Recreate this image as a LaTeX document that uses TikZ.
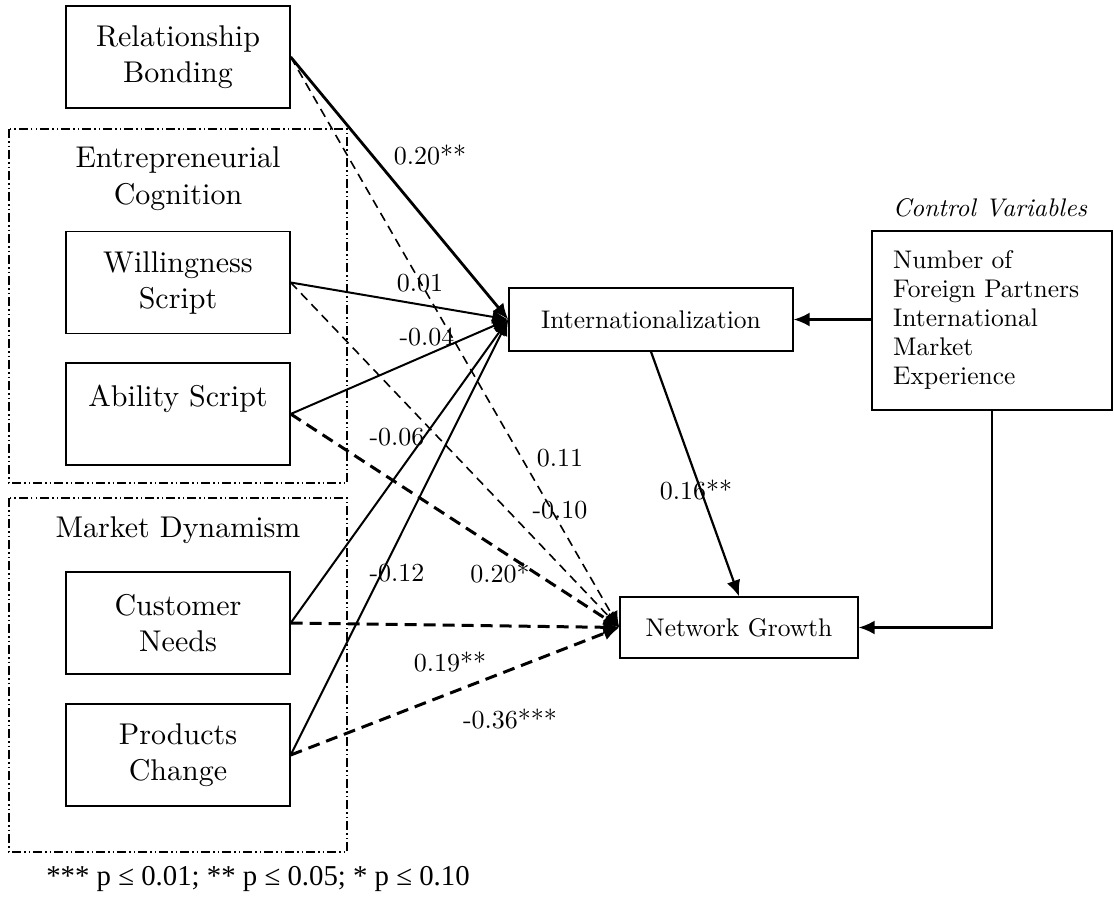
\documentclass[tikz,border=0pt]{standalone}
\usepackage{fontspec}
\setmainfont{lmroman10-regular.otf}[ItalicFont=lmroman10-italic.otf, BoldFont=lmroman10-bold.otf, BoldItalicFont=lmroman10-bolditalic.otf]
\newfontfamily\legendfont{Liberation Serif}
\usetikzlibrary{arrows.meta}
\begin{document}
\begin{tikzpicture}[x=1pt,y=-1pt,
  box/.style={draw, line width=1.4pt, minimum width=224pt, minimum height=102pt, align=center, inner sep=0pt, font=\fontsize{30}{36}\selectfont},
  smallbox/.style={draw, line width=1.4pt, align=center, inner sep=0pt, font=\fontsize{25.5}{31}\selectfont},
  group/.style={draw, line width=1.3pt, dash pattern=on 9pt off 3pt on 1.5pt off 3pt on 1.5pt off 3pt},
  grouptitle/.style={align=center, font=\fontsize{30}{37}\selectfont},
  lbl/.style={font=\fontsize{26}{30}\selectfont, inner sep=0pt},
  tip/.style={-{Latex[length=16pt,width=14pt]}},
  solidthin/.style={tip, line width=2pt},
  solidthick/.style={tip, line width=2.8pt},
  dashthin/.style={tip, line width=1.6pt, dash pattern=on 9pt off 6pt},
  dashthick/.style={tip, line width=3pt, dash pattern=on 12pt off 7pt},
  conn/.style={tip, line width=2.2pt}]
\useasboundingbox (0,0) rectangle (1114,897);
% groups
\draw[group] (9,129) rectangle (347,483);
\draw[group] (9,498) rectangle (347,852);
\node[grouptitle] (ect) at (178,179) {Entrepreneurial\\Cognition};
\node[grouptitle] (mdt) at (178,530) {Market Dynamism};
% boxes
\node[box] (RB) at (178,57) {Relationship\\Bonding};
\node[box] (WS) at (178,282.5) {Willingness\\Script};
\node[box] (AS) at (178,414) {Ability Script\\~};
\node[box] (CN) at (178,623) {Customer\\Needs};
\node[box] (PC) at (178,755) {Products\\Change};
\node[smallbox, minimum width=284pt, minimum height=63pt] (INT) at (651,319.5) {Internationalization};
\node[smallbox, minimum width=238pt, minimum height=61pt] (NG) at (739,627.5) {Network Growth};
\node[draw, line width=1.4pt, minimum width=240pt, minimum height=179pt, inner sep=0pt] (CV) at (992,320.5) {};
\node[anchor=north west, align=left, inner sep=0pt, font=\fontsize{25.5}{29}\selectfont] (CVt) at (893,250) {Number of\\Foreign Partners\\International\\Market\\Experience};
\node[font=\fontsize{25.5}{30}\selectfont\itshape] (CVh) at (990,208) {Control Variables};
% paths to Internationalization
\draw[solidthick] (RB.east) -- (INT.west);
\draw[solidthin] (WS.east) -- (INT.west);
\draw[solidthin] (AS.east) -- (INT.west);
\draw[solidthin] (CN.east) -- (INT.west);
\draw[solidthin] (PC.east) -- (INT.west);
% paths to Network Growth
\draw[dashthin] (RB.east) -- (NG.west);
\draw[dashthin] (WS.east) -- (NG.west);
\draw[dashthick] (AS.east) -- (NG.west);
\draw[dashthick] (CN.east) -- (NG.west);
\draw[dashthick] (PC.east) -- (NG.west);
% other connectors
\draw[conn] (INT.south) -- (NG.north);
\draw[conn] (CV.west |- INT.east) -- (INT.east);
\draw[conn] (CV.south) |- (NG.east);
% labels
\node[lbl] (l1) at (430,155) {0.20**};
\node[lbl] (l2) at (420,283) {0.01};
\node[lbl] (l3) at (427,337) {-0.04};
\node[lbl] (l4) at (397,437) {-0.06};
\node[lbl] (l5) at (560,458) {0.11};
\node[lbl] (l6) at (560,510) {-0.10};
\node[lbl] (l7) at (397,573) {-0.12};
\node[lbl] (l8) at (500,573) {0.20*};
\node[lbl] (l9) at (450,662) {0.19**};
\node[lbl] (l10) at (510,719) {-0.36***};
\node[lbl] (l11) at (696,490) {0.16**};
% legend
\node[font=\legendfont\fontsize{28.8}{32}\selectfont, inner sep=0pt] (leg) at (258,879) {*** p ≤ 0.01; ** p ≤ 0.05; * p ≤ 0.10};
\end{tikzpicture}
\end{document}
